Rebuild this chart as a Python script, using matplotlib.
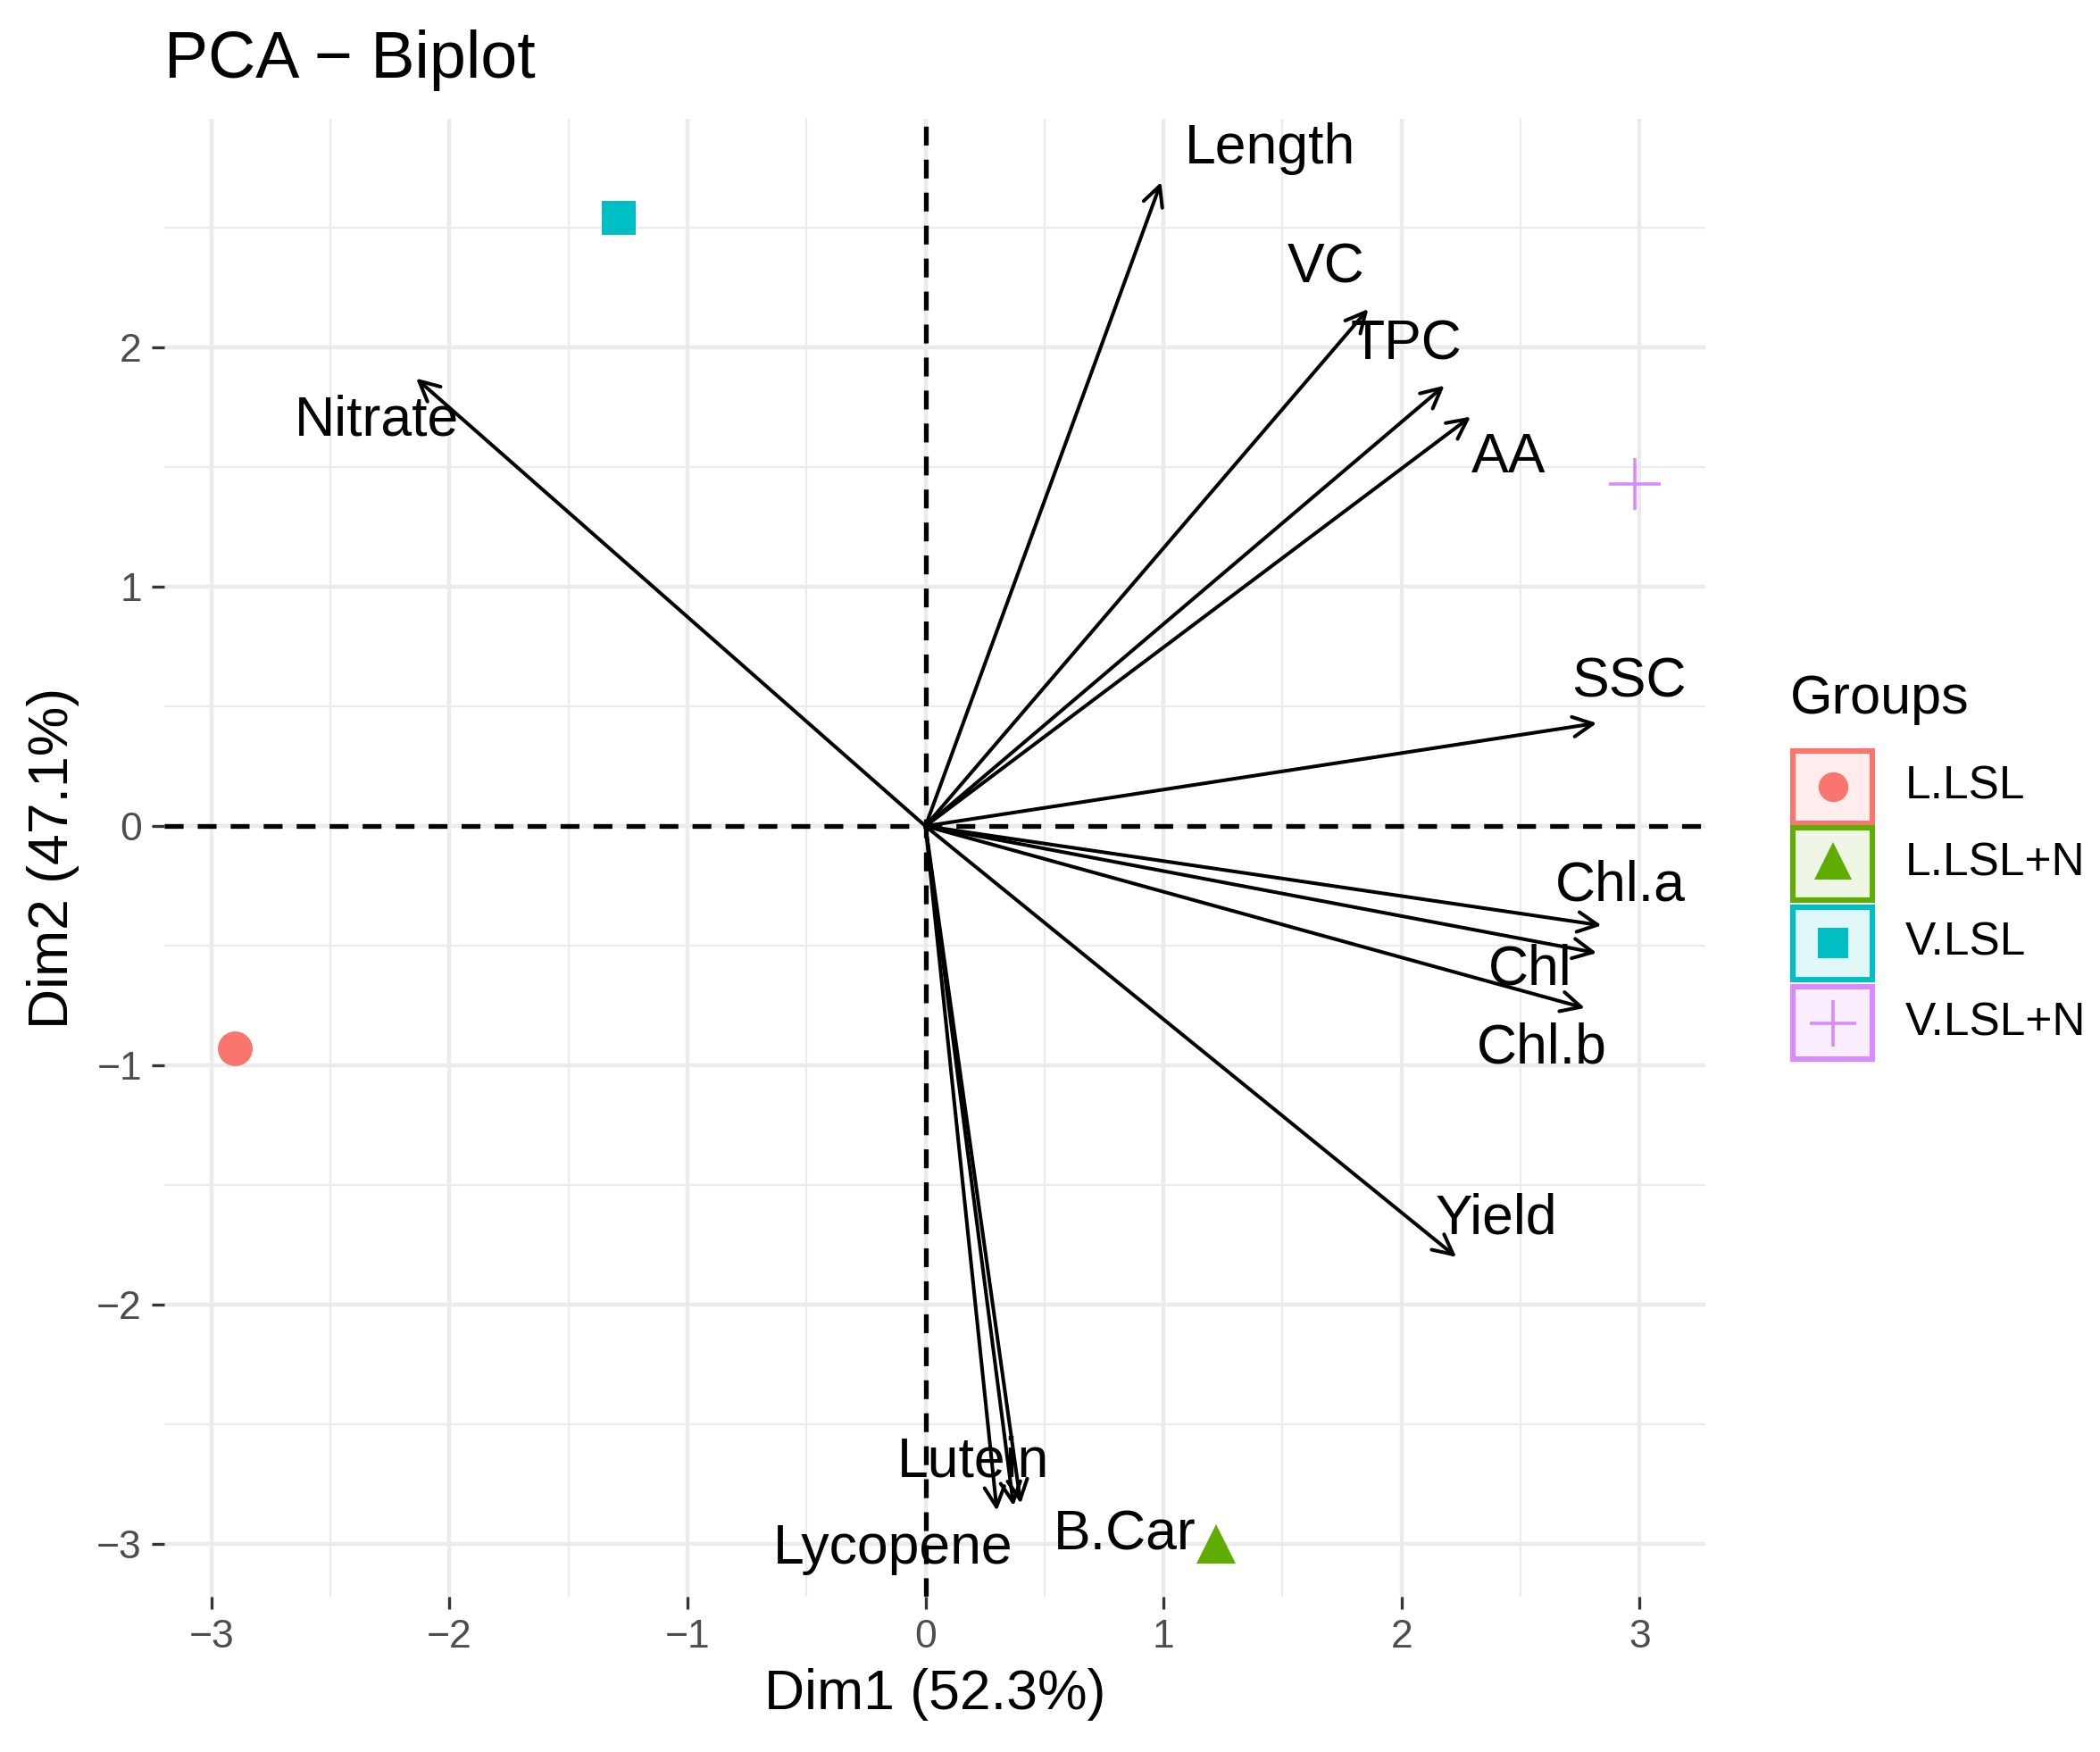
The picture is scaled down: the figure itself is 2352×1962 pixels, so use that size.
import matplotlib
matplotlib.use("Agg")
import matplotlib.pyplot as plt
from matplotlib.patches import Rectangle
import numpy as np

plt.rcParams['font.family'] = ['Liberation Sans', 'DejaVu Sans']

# ---- data ----
groups = ["L.LSL", "L.LSL+N", "V.LSL", "V.LSL+N"]
ind_x = [-2.90, 1.22, -1.29, 2.98]
ind_y = [-0.93, -3.00, 2.54, 1.43]
group_colors = ["#F8766D", "#5FAD00", "#00BFC4", "#D88BFF"]
group_fills = ["#FEEDEC", "#EFF5E5", "#E0F6F7", "#F9EEFF"]
group_markers = ["o", "^", "s", "+"]

variables = ["Length", "VC", "TPC", "AA", "SSC", "Chl.a", "Chl", "Chl.b",
             "Yield", "Lutein", "Lycopene", "B.Car", "Nitrate"]
var_x = [0.99, 1.86, 2.18, 2.29, 2.82, 2.84, 2.82, 2.77, 2.23, 0.37, 0.30, 0.40, -2.14]
var_y = [2.69, 2.16, 1.84, 1.71, 0.43, -0.415, -0.53, -0.76, -1.80, -2.84, -2.86, -2.83, 1.87]
label_x = [1.446, 1.684, 2.02, 2.45, 2.955, 2.92, 2.54, 2.59, 2.40, 0.20, -0.136, 0.836, -2.305]
label_y = [2.83, 2.33, 2.01, 1.54, 0.60, -0.25, -0.60, -0.93, -1.64, -2.655, -3.02, -2.96, 1.695]

x_ticks = [-3, -2, -1, 0, 1, 2, 3]
y_ticks = [-3, -2, -1, 0, 1, 2]
xlab = "Dim1 (52.3%)"
ylab = "Dim2 (47.1%)"
title = "PCA \u2212 Biplot"

# ---- figure ----
W, H = 1560.0, 1300.0
fig = plt.figure(figsize=(11.76, 9.81), dpi=200)
ax = fig.add_axes([122 / W, 1 - 1185 / H, (1267 - 122) / W, (1185 - 88) / H])
ax.set_xlim(-3.198, 3.277)
ax.set_ylim(-3.22, 2.955)

for s in ax.spines.values():
    s.set_visible(False)

# grid
for v in np.arange(-3, 4, 1):
    ax.axvline(v, color="#EBEBEB", lw=1.6, zorder=0)
for v in np.arange(-3, 3, 1):
    ax.axhline(v, color="#EBEBEB", lw=1.6, zorder=0)
for v in np.arange(-2.5, 3.5, 1):
    ax.axvline(v, color="#EBEBEB", lw=0.8, zorder=0)
for v in np.arange(-2.5, 3.0, 1):
    ax.axhline(v, color="#EBEBEB", lw=0.8, zorder=0)

ax.axhline(0, color="black", lw=1.9, ls=(0, (4, 3)), zorder=1)
ax.axvline(0, color="black", lw=1.9, ls=(0, (4, 3)), zorder=1)

ax.set_xticks(x_ticks)
ax.set_yticks(y_ticks)
ax.tick_params(axis="both", which="major", length=5, width=1.2, color="#333333",
               labelcolor="#4D4D4D", labelsize=16, pad=4)

# arrows
for vx, vy in zip(var_x, var_y):
    ax.annotate("", xy=(vx, vy), xytext=(0, 0),
                arrowprops=dict(arrowstyle="->,head_length=0.8,head_width=0.4",
                                color="black", lw=1.45, shrinkA=0, shrinkB=0),
                zorder=3)
for name, lx, ly in zip(variables, label_x, label_y):
    ax.text(lx, ly, name, fontsize=22.5, ha="center", va="center", color="black", zorder=4)

# individuals
for gx, gy, c, m in zip(ind_x, ind_y, group_colors, group_markers):
    if m == "+":
        ax.plot(gx, gy, marker=m, color=c, markersize=21, mew=1.3, ls="none", zorder=5)
    elif m == "^":
        ax.plot(gx, gy, marker=m, color=c, markersize=16, mew=0, ls="none", zorder=5)
    else:
        ax.plot(gx, gy, marker=m, color=c, markersize=14, mew=0, ls="none", zorder=5)

ax.set_xlabel(xlab, fontsize=22.5, labelpad=5)
ax.set_ylabel(ylab, fontsize=22.5, labelpad=7)
fig.text(122 / W, 1 - 45 / H, title, fontsize=26.5, ha="left", va="center")

# legend (manual)
lax = fig.add_axes([0, 0, 1, 1])
lax.set_xlim(0, W)
lax.set_ylim(H, 0)
lax.axis("off")
lax.text(1330, 519, "Groups", fontsize=22, ha="left", va="center")
tops = [557, 614, 673, 732]
for g, c, f, m, t in zip(groups, group_colors, group_fills, group_markers, tops):
    lax.add_patch(Rectangle((1332, t), 59, 54, facecolor=f, edgecolor=c, lw=2.2))
    cy = t + 27
    if m == "+":
        lax.plot(1362, cy, marker=m, color=c, markersize=19, mew=1.3, ls="none")
    elif m == "^":
        lax.plot(1362, cy - 2, marker=m, color=c, markersize=15, mew=0, ls="none")
    else:
        lax.plot(1362, cy, marker=m, color=c, markersize=12, mew=0, ls="none")
    lax.text(1415, cy, g, fontsize=18.5, ha="left", va="center")

fig.savefig("out.png", dpi=200)
